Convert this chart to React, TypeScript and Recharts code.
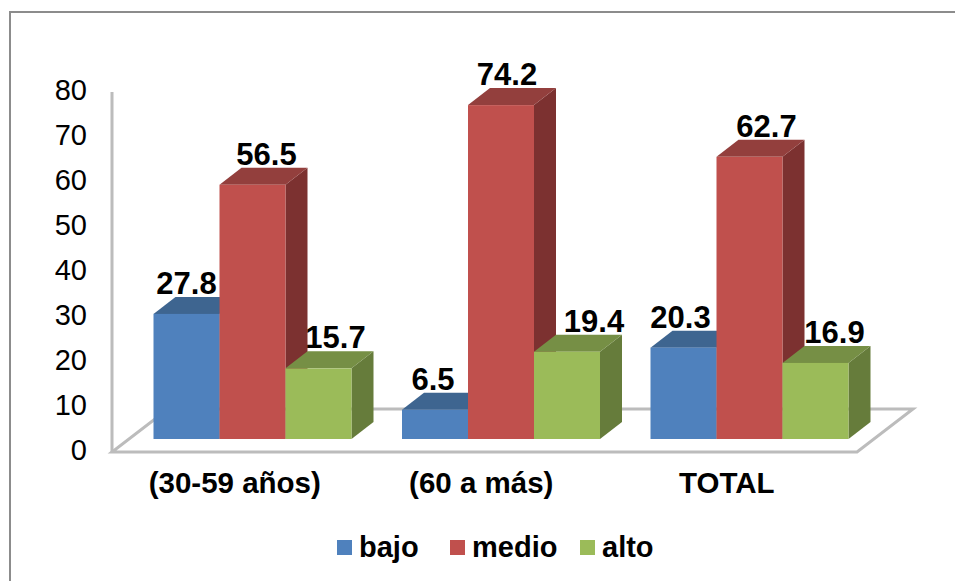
import React from 'react';
import { BarChart, Bar, XAxis, YAxis, LabelList, Legend, usePlotArea } from 'recharts';

const groups = ['(30-59 años)', '(60 a más)', 'TOTAL'];
const bajo = [27.8, 6.5, 20.3];
const medio = [56.5, 74.2, 62.7];
const alto = [15.7, 19.4, 16.9];
const yTicks = [0, 10, 20, 30, 40, 50, 60, 70, 80];

const data = groups.map((name, i) => ({ name, bajo: bajo[i], medio: medio[i], alto: alto[i] }));

const FONT = '"Liberation Sans", Arial, sans-serif';
const DEPTH_X = 22;
const DEPTH_Y = 17;
const AXIS_GRAY = '#bcbcbc';

// darker shades for the top and right faces of each box
const shades: Record<string, { top: string; side: string }> = {
  '#4F81BD': { top: '#3E6590', side: '#375A83' },
  '#C0504D': { top: '#933F3D', side: '#7C3130' },
  '#9BBB59': { top: '#768F45', side: '#667C3B' },
};

const Box3D = (props: any) => {
  const { x, y, width, height, fill } = props;
  const { top, side } = shades[fill];
  const r = x + width;
  const b = y + height;
  return (
    <g>
      <polygon fill={side} points={`${r},${y} ${r + DEPTH_X},${y - DEPTH_Y} ${r + DEPTH_X},${b - DEPTH_Y} ${r},${b}`} />
      <polygon fill={top} points={`${x},${y} ${x + DEPTH_X},${y - DEPTH_Y} ${r + DEPTH_X},${y - DEPTH_Y} ${r},${y}`} />
      <rect x={x} y={y} width={width} height={height} fill={fill} />
    </g>
  );
};

// y axis line and the floor parallelogram, both offset from the plane the bars stand on
const Floor = () => {
  const plot = usePlotArea();
  if (!plot) return null;
  const left = plot.x - 16.5;
  const bottom = plot.y + plot.height + 13;
  const right = left + 745;
  return (
    <g fill="none" stroke={AXIS_GRAY} strokeWidth={3}>
      <line x1={left} y1={bottom - 360} x2={left} y2={bottom} />
      <polygon points={`${left},${bottom} ${right},${bottom} ${right + 56},${bottom - 43} ${left + 56},${bottom - 43}`} />
    </g>
  );
};

const valueLabel = (shifts: number[]) => (props: any) => {
  const { x, y, width, value, index } = props;
  return (
    <text
      x={x + width / 2 + shifts[index]}
      y={y - 20}
      textAnchor="middle"
      fontFamily={FONT}
      fontWeight="bold"
      fontSize={31}
      fill="#000"
    >
      {Number(value).toFixed(1)}
    </text>
  );
};

const catShift = [-18, -20, -23];

const CategoryTick = (props: any) => {
  const { x, y, payload } = props;
  return (
    <text x={x + catShift[payload.index]} y={y + 46} textAnchor="middle" fontFamily={FONT} fontWeight="bold" fontSize={29.5} fill="#000">
      {payload.value}
    </text>
  );
};

const ValueTick = (props: any) => {
  const { y, payload } = props;
  return (
    <text x={87} y={y + 21} textAnchor="end" fontFamily={FONT} fontSize={29} fill="#000">
      {payload.value}
    </text>
  );
};

const legendLeft = [337, 450, 580];

const LegendRow = ({ payload }: any) => (
  <div style={{ position: 'relative', width: 955, height: 40 }}>
    {payload.map((entry: any, i: number) => (
      <div key={entry.value} style={{ position: 'absolute', left: legendLeft[i], top: 0, display: 'flex', alignItems: 'center', height: 40 }}>
        <span style={{ display: 'inline-block', width: 15, height: 15, background: entry.color, marginRight: 7 }} />
        <span style={{ fontFamily: FONT, fontWeight: 'bold', fontSize: 29, color: '#000' }}>{entry.value}</span>
      </div>
    ))}
  </div>
);

export default function App() {
  return (
    <div style={{ position: 'absolute', left: 0, top: 0, width: 955, height: 581, background: '#fff', overflow: 'hidden' }}>
      <div style={{ position: 'absolute', left: 9, top: 11, width: 2, bottom: 0, background: '#8c8c8c' }} />
      <div style={{ position: 'absolute', left: 9, top: 11, right: 0, height: 2, background: '#8c8c8c' }} />
      <BarChart
        width={955}
        height={581}
        data={data}
        margin={{ top: 79, right: 81, bottom: 42, left: 0 }}
        barGap={0}
        barCategoryGap={25}
      >
        <XAxis dataKey="name" axisLine={false} tickLine={false} tick={<CategoryTick />} interval={0} height={60} />
        <YAxis domain={[0, 80]} ticks={yTicks} axisLine={false} tickLine={false} width={128.5} tick={<ValueTick />} />
        <Floor />
        <Legend
          verticalAlign="bottom"
          itemSorter={null}
          content={<LegendRow />}
          wrapperStyle={{ position: 'absolute', left: 0, top: 527, width: 955, height: 40, bottom: 'auto' }}
        />
        <Bar dataKey="bajo" fill="#4F81BD" shape={<Box3D />} isAnimationActive={false}>
          <LabelList dataKey="bajo" content={valueLabel([0, -2, -3])} />
        </Bar>
        <Bar dataKey="medio" fill="#C0504D" shape={<Box3D />} isAnimationActive={false}>
          <LabelList dataKey="medio" content={valueLabel([14, 6, 17])} />
        </Bar>
        <Bar dataKey="alto" fill="#9BBB59" shape={<Box3D />} isAnimationActive={false}>
          <LabelList dataKey="alto" content={valueLabel([17, 27, 19])} />
        </Bar>
      </BarChart>
    </div>
  );
}
